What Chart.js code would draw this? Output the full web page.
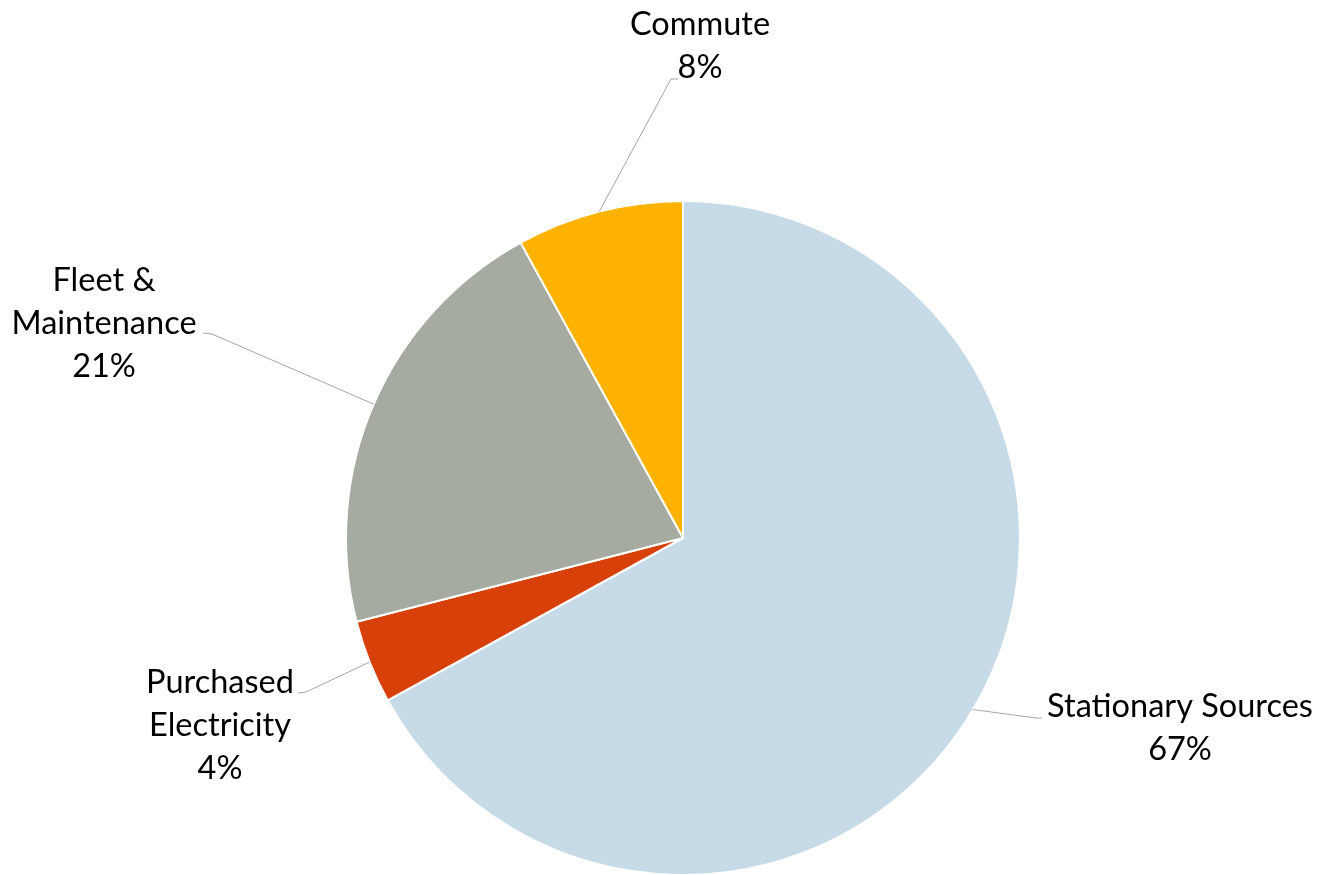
<!DOCTYPE html>
<html>
<head>
<meta charset="utf-8">
<script src="https://cdn.jsdelivr.net/npm/chart.js@4/dist/chart.umd.min.js"></script>
<style>
  html, body { margin: 0; padding: 0; background: #ffffff; }
  #wrap { position: relative; width: 1328px; height: 875px; }
</style>
</head>
<body>
<div id="wrap"><canvas id="pie" width="1328" height="875"></canvas></div>
<script>
// Emission sources and their shares (percent)
const categories = ['Stationary Sources', 'Purchased Electricity', 'Fleet & Maintenance', 'Commute'];
const shares = [67, 4, 21, 8];
const sliceColors = ['#C7DAE7', '#D74009', '#A6ABA1', '#FFB300'];
// Label text lines for each slice (name lines, percent added below)
const labelLines = [
  ['Stationary Sources'],
  ['Purchased', 'Electricity'],
  ['Fleet &', 'Maintenance'],
  ['Commute']
];

// Label placement relative to the pie centre: text block centre x, first baseline y,
// elbow of the leader line and the end of the leader line next to the text.
const labelLayout = [
  { tx: 497, ty: 179, elbow: [353, 180], end: [359, 180] },
  { tx: -463, ty: 155, elbow: [-377, 154], end: [-385, 155] },
  { tx: -579, ty: -247, elbow: [-471, -204], end: [-480, -205] },
  { tx: 17, ty: -503, elbow: [-12, -459], end: [-5, -459] }
];

const FONT = '32.5px Lato, "Open Sans", sans-serif';
const LINE_H = 43;

const calloutPlugin = {
  id: 'callouts',
  afterDatasetsDraw(chart) {
    const ctx = chart.ctx;
    const meta = chart.getDatasetMeta(0);
    ctx.save();
    meta.data.forEach((arc, i) => {
      const p = arc.getProps(['x', 'y', 'startAngle', 'endAngle', 'outerRadius'], true);
      const mid = (p.startAngle + p.endAngle) / 2;
      const sx = p.x + Math.cos(mid) * p.outerRadius;
      const sy = p.y + Math.sin(mid) * p.outerRadius;
      const L = labelLayout[i];
      // leader line
      ctx.strokeStyle = '#A6A6A6';
      ctx.lineWidth = 1;
      ctx.beginPath();
      ctx.moveTo(sx, sy);
      ctx.lineTo(p.x + L.elbow[0], p.y + L.elbow[1]);
      ctx.lineTo(p.x + L.end[0], p.y + L.end[1]);
      ctx.stroke();
      // text
      ctx.fillStyle = '#000000';
      ctx.font = FONT;
      ctx.textAlign = 'center';
      ctx.textBaseline = 'alphabetic';
      const lines = labelLines[i].concat([shares[i] + '%']);
      lines.forEach((t, k) => {
        ctx.fillText(t, p.x + L.tx, p.y + L.ty + k * LINE_H);
      });
    });
    ctx.restore();
  }
};

new Chart(document.getElementById('pie'), {
  type: 'pie',
  data: {
    labels: categories,
    datasets: [{
      data: shares,
      backgroundColor: sliceColors,
      borderColor: '#ffffff',
      borderWidth: 2,
      hoverOffset: 0
    }]
  },
  options: {
    responsive: false,
    animation: false,
    radius: 337,
    layout: { padding: { top: 201, bottom: 0, left: 346, right: 308 } },
    plugins: {
      legend: { display: false },
      tooltip: { enabled: false }
    }
  },
  plugins: [calloutPlugin]
});
</script>
</body>
</html>
